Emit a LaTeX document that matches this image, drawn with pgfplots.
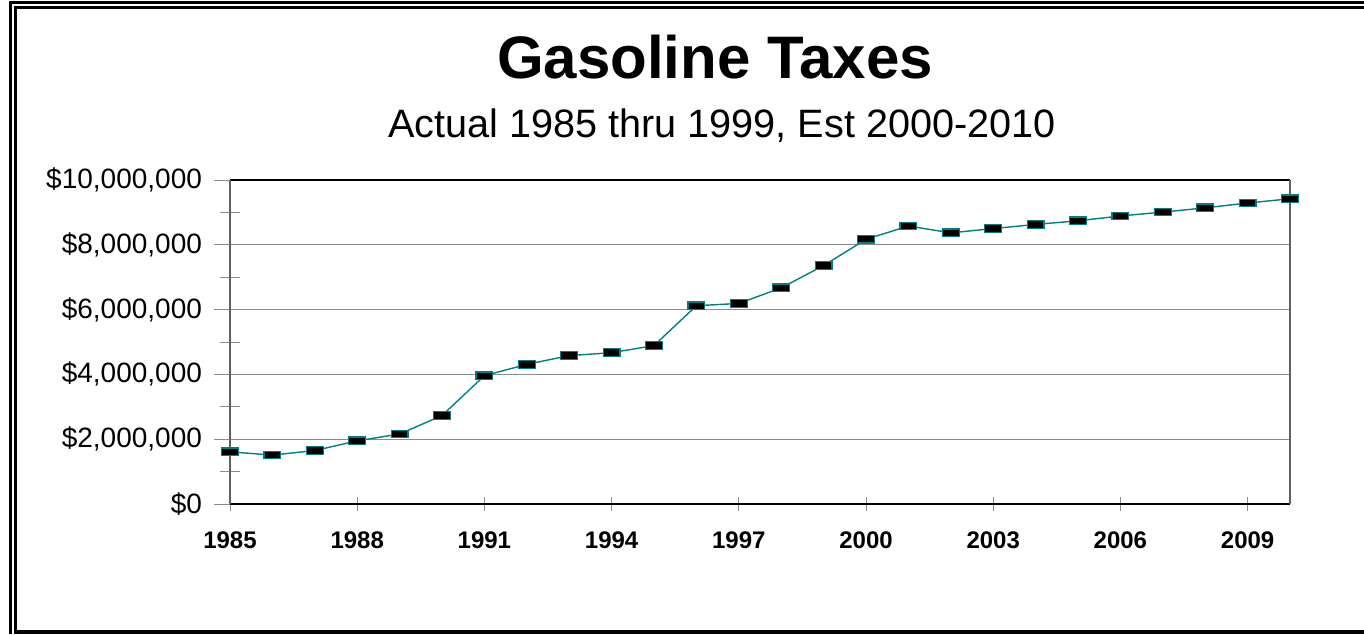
\documentclass[border=0pt]{standalone}
\usepackage{fontspec}
\setmainfont{Liberation Sans}
\usepackage{pgfplots}
\pgfplotsset{compat=1.18}
\definecolor{lineteal}{RGB}{0,128,128}
\definecolor{gridgray}{RGB}{140,140,140}
\definecolor{axisgray}{RGB}{96,96,96}
\pgfdeclareplotmark{gbar}{\pgfpathrectangle{\pgfpoint{-4.2pt}{-1.9pt}}{\pgfpoint{8.4pt}{3.8pt}}\pgfusepathqfillstroke}
\begin{document}
\begin{tikzpicture}[x=0.5pt,y=0.5pt]
\useasboundingbox (0,0) rectangle (1364,634);
% frame (cut at right and bottom)
\draw[line width=1.7pt] (10.5,0) -- (10.5,631.5) -- (1364,631.5);
\draw[line width=1.7pt] (1364,626.5) -- (15.5,626.5) -- (15.5,2) -- (1364,2);
% titles
\node[anchor=base, font=\bfseries\fontsize{30}{36}\selectfont, inner sep=0pt] at (715,556) {Gasoline Taxes};
\node[anchor=base, font=\fontsize{19.8}{24}\selectfont, inner sep=0pt] at (722,497) {Actual 1985 thru 1999, Est 2000-2010};
\begin{axis}[
  at={(115pt,65pt)}, anchor=south west,
  scale only axis, width=530pt, height=162pt,
  xmin=1985, xmax=2010, ymin=0, ymax=10000000,
  clip=false,
  separate axis lines,
  x axis line style={black, line width=0.6pt},
  y axis line style={axisgray, line width=1pt},
  xtick pos=bottom, ytick pos=left,
  xtick={1985,1988,...,2009},
  xticklabels={1985,1988,1991,1994,1997,2000,2003,2006,2009},
  ytick={0,2000000,4000000,6000000,8000000,10000000},
  yticklabels={{\$0},{\$2,000,000},{\$4,000,000},{\$6,000,000},{\$8,000,000},{\$10,000,000}},
  minor ytick={1000000,3000000,5000000,7000000,9000000},
  tick align=center,
  major tick length=16pt, minor tick length=10pt,
  tick style={gridgray, line width=0.5pt},
  xtick style={/pgfplots/major tick length=7pt},
  ymajorgrids, major grid style={gridgray, line width=0.6pt},
  yticklabel style={font=\fontsize{14}{16}\selectfont, anchor=east, xshift=-2.5pt},
  xticklabel style={font=\bfseries\fontsize{12}{14}\selectfont, anchor=north, yshift=-2.5pt},
  scaled y ticks=false,
]
\addplot[color=lineteal, line width=0.7pt, mark=gbar, mark options={fill=black, draw=lineteal, line width=0.6pt}] coordinates {
(1985,1610000) (1986,1510000) (1987,1650000) (1988,1950000) (1989,2160000)
(1990,2730000) (1991,3960000) (1992,4310000) (1993,4580000) (1994,4670000)
(1995,4890000) (1996,6120000) (1997,6190000) (1998,6670000) (1999,7360000)
(2000,8170000) (2001,8580000) (2002,8370000) (2003,8500000) (2004,8630000)
(2005,8740000) (2006,8890000) (2007,9010000) (2008,9140000) (2009,9290000)
(2010,9420000)
};
\end{axis}
\end{tikzpicture}
\end{document}
